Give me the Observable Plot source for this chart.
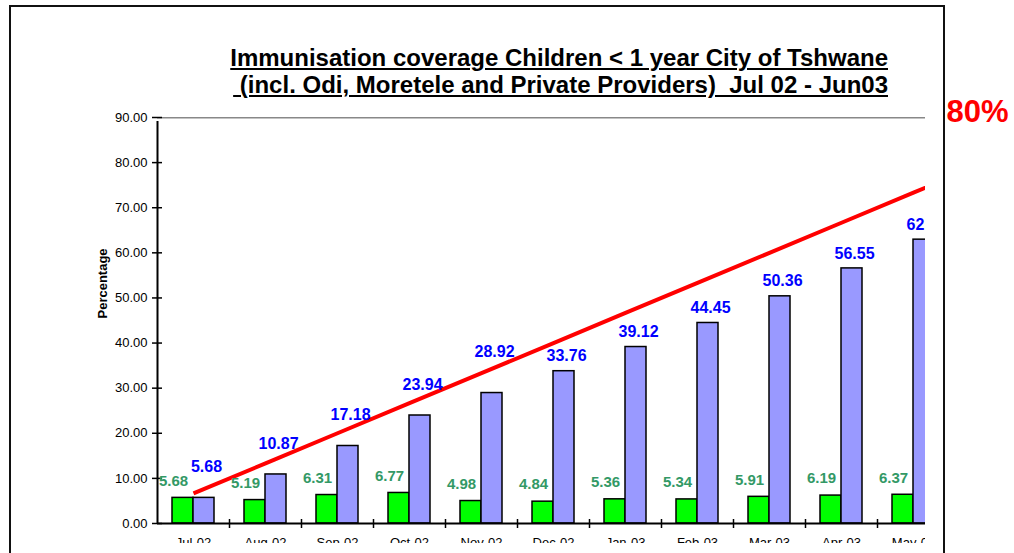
<!DOCTYPE html>
<html><head><meta charset="utf-8">
<script src="https://cdn.jsdelivr.net/npm/d3@7"></script>
<script src="https://cdn.jsdelivr.net/npm/@observablehq/plot@0.6"></script>
<style>
html,body{margin:0;padding:0;background:#fff;}
#wrap{position:relative;width:1014px;height:553px;overflow:hidden;font-family:Arial,"Liberation Sans",sans-serif;}
#chart{position:absolute;left:0;top:0;}
#border{position:absolute;left:9px;top:5px;width:932px;height:600px;border:2px solid #111;border-bottom:none;pointer-events:none;}
#title{position:absolute;right:126px;top:44px;text-align:right;font-weight:bold;font-size:24px;line-height:27px;text-decoration:underline;white-space:pre;color:#000;}
</style></head><body>
<div id="wrap"><div id="chart"></div><div id="title"></div><div id="border"></div></div>
<script>
const titleLines = ["Immunisation coverage Children < 1 year City of Tshwane", " (incl. Odi, Moretele and Private Providers)  Jul 02 - Jun03"];
const months = ["Jul-02","Aug-02","Sep-02","Oct-02","Nov-02","Dec-02","Jan-03","Feb-03","Mar-03","Apr-03","May-03","Jun-03"];
const monthly = [5.68, 5.19, 6.31, 6.77, 4.98, 4.84, 5.36, 5.34, 5.91, 6.19, 6.37];
const cumulative = [5.68, 10.87, 17.18, 23.94, 28.92, 33.76, 39.12, 44.45, 50.36, 56.55, 62.92];
const target = [6.67, 13.33, 20.00, 26.67, 33.33, 40.00, 46.67, 53.33, 60.00, 66.67, 73.33, 80.00];
const yTicks = [0, 10, 20, 30, 40, 50, 60, 70, 80, 90];
const targetLabel = "80%";
const yLabel = "Percentage";

document.getElementById("title").textContent = titleLines.join("\n");

const data = months.map((m, i) => ({month: m, monthly: monthly[i], cumulative: cumulative[i], target: target[i]}));
const barsData = data.filter(d => d.monthly != null);
const fmt = d3.format(".2f");

const plot = Plot.plot({
  width: 1014, height: 553,
  marginLeft: 157, marginRight: 89, marginTop: 117, marginBottom: 10,
  style: {background: "transparent", fontFamily: "Arial, 'Liberation Sans', sans-serif", fontSize: "13px", color: "#000"},
  x: {type: "band", domain: months, range: [157, 1021], paddingInner: 30/72, paddingOuter: 15/72, axis: null},
  y: {domain: [0, 90], range: [523, 117]},
  marks: [
    Plot.ruleY([90], {stroke: "#888", strokeWidth: 2, clip: true}),
    Plot.barY(barsData, {x: "month", y: "monthly", fill: "#00ff00", stroke: "#000", strokeWidth: 1.5, insetRight: 21, clip: true}),
    Plot.barY(barsData, {x: "month", y: "cumulative", fill: "#9999ff", stroke: "#000", strokeWidth: 1.5, insetLeft: 21, clip: true}),
    Plot.lineY(data, {x: "month", y: "target", stroke: "#ff0000", strokeWidth: 4, strokeLinecap: "butt", clip: true}),
    Plot.ruleY([0], {stroke: "#000", strokeWidth: 2, clip: true}),
    Plot.ruleX([months[0]], {x: d => d, dx: -36, y1: 0, y2: 90, insetBottom: -4, stroke: "#000", strokeWidth: 2}),
    Plot.ruleX(months.slice(1), {x: d => d, dx: -36, y1: 0, y2: 0, insetTop: -4, insetBottom: -5, stroke: "#000", strokeWidth: 1.5, clip: true}),
    Plot.axisY(yTicks, {tickSize: 10, dx: 5, tickFormat: () => "", label: null, strokeWidth: 1.5}),
    Plot.axisY(yTicks, {tickSize: 0, tickPadding: 10, tickFormat: fmt, label: null, fontSize: 13}),
    Plot.text([yLabel], {frameAnchor: "left", dx: -55, dy: -12, rotate: -90, fontWeight: "bold", fontSize: 13}),
    Plot.text(months, {x: d => d, frameAnchor: "bottom", lineAnchor: "top", dy: -6, fontSize: 13, fill: "#000", clip: true}),
    Plot.text(barsData, {x: "month", y: "monthly", text: d => fmt(d.monthly), dx: -20, dy: -17, fill: "#339966", fontWeight: "bold", fontSize: 15, clip: true}),
    Plot.text(barsData, {filter: (d, i) => i < 4, x: "month", y: "cumulative", text: d => fmt(d.cumulative), dx: 13, dy: -31, fill: "#0000ff", fontWeight: "bold", fontSize: 16, clip: true}),
    Plot.text(barsData, {filter: (d, i) => i === 4, x: "month", y: "cumulative", text: d => fmt(d.cumulative), dx: 13, dy: -41, fill: "#0000ff", fontWeight: "bold", fontSize: 16, clip: true}),
    Plot.text(barsData, {filter: (d, i) => i > 4, x: "month", y: "cumulative", text: d => fmt(d.cumulative), dx: 13, dy: -15, fill: "#0000ff", fontWeight: "bold", fontSize: 16, clip: true}),
    Plot.text([targetLabel], {frameAnchor: "top-right", textAnchor: "start", dx: 21, dy: -18, fill: "#ff0000", fontWeight: "bold", fontSize: 31})
  ]
});
document.getElementById("chart").appendChild(plot);
</script>
</body></html>
